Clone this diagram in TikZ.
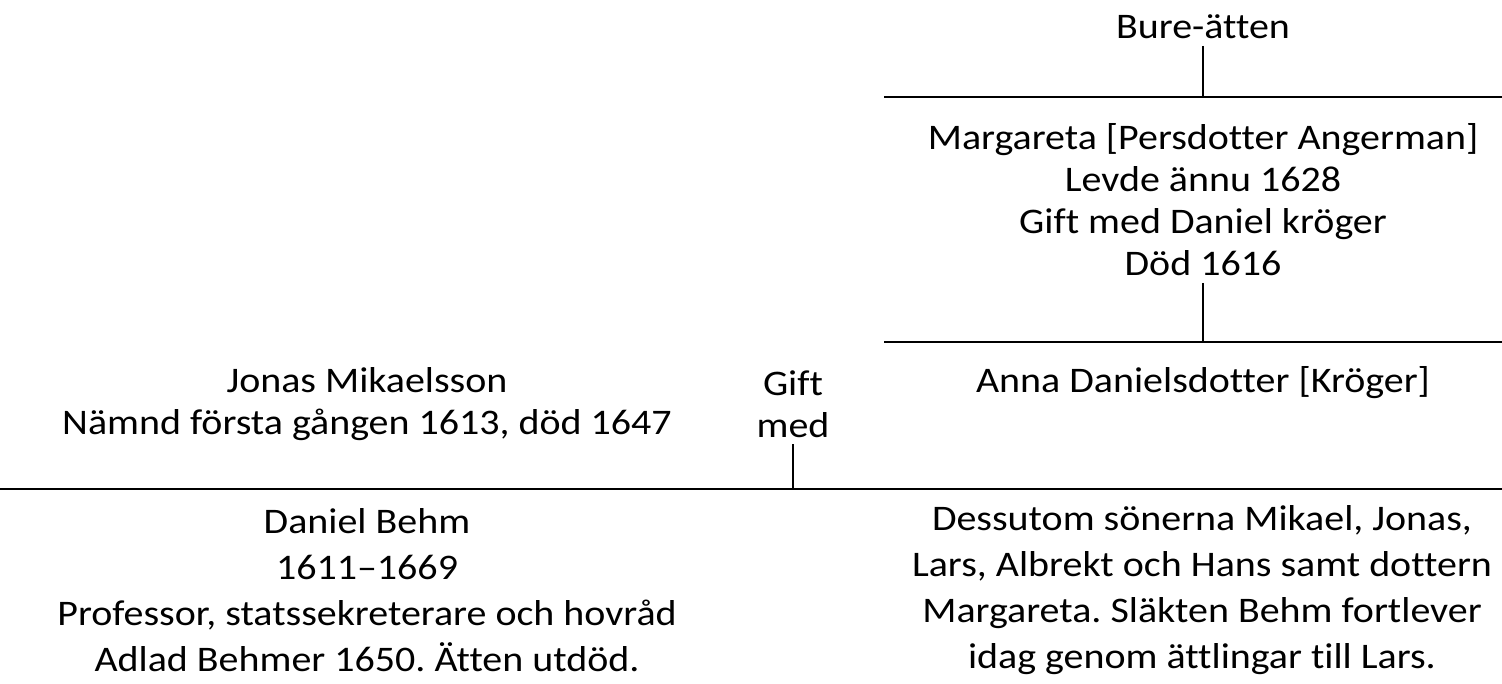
\documentclass[tikz,border=0pt]{standalone}
\usepackage{fontspec}
\setmainfont{Carlito}[FakeStretch=1.11, Ligatures=NoCommon]
\frenchspacing
\begin{document}
\begin{tikzpicture}[x=1pt, y=-1pt, line width=1.6pt,
        person/.style = {align=center,
            inner xsep=0pt, inner ysep=6pt,
            font=\fontsize{36}{46}\selectfont},
        tight/.style = {font=\fontsize{36}{42}\selectfont}]

    \useasboundingbox (0,0) rectangle (1502,683);

    % Bure
    \node[person] (bure) at (1203,27) {Bure-ätten};

    % Margareta
    \node[person,tight] (marg) at (1203,200) {Margareta [Persdotter Angerman]\\Levde ännu 1628\\Gift med Daniel kröger\\Död 1616};

    % Anna and Jonas
    \node[person] (anna) at (1203,383) {Anna Danielsdotter [Kröger]};
    \node[person,tight] (jonas) at (367,404) {Jonas Mikaelsson\\Nämnd första gången 1613, död 1647};
    \node[person,tight] (gift) at (793,404) {Gift\\med};

    % Children
    \node[person] (daniel) at (367,590) {Daniel Behm\\1611–1669\\Professor, statssekreterare och hovråd\\Adlad Behmer 1650. Ätten utdöd.};
    \node[person] (sons) at (1202,590) {Dessutom sönerna Mikael, Jonas,\\Lars, Albrekt och Hans samt dottern\\Margareta. Släkten Behm fortlever\\idag genom ättlingar till Lars.};

    % Lines
    \coordinate (topL) at (884,97);
    \coordinate (topR) at (1502,97);
    \coordinate (midL) at (884,342);
    \coordinate (midR) at (1502,342);
    \coordinate (lowL) at (0,489);
    \coordinate (lowR) at (1502,489);
    \draw (topL) -- (topR);
    \draw (midL) -- (midR);
    \draw (lowL) -- (lowR);

    % Descent
    \draw (bure.south) -- (bure.south |- topL);
    \draw (marg.south) -- (marg.south |- midL);
    \draw (gift.south) -- (gift.south |- lowL);

\end{tikzpicture}
\end{document}
